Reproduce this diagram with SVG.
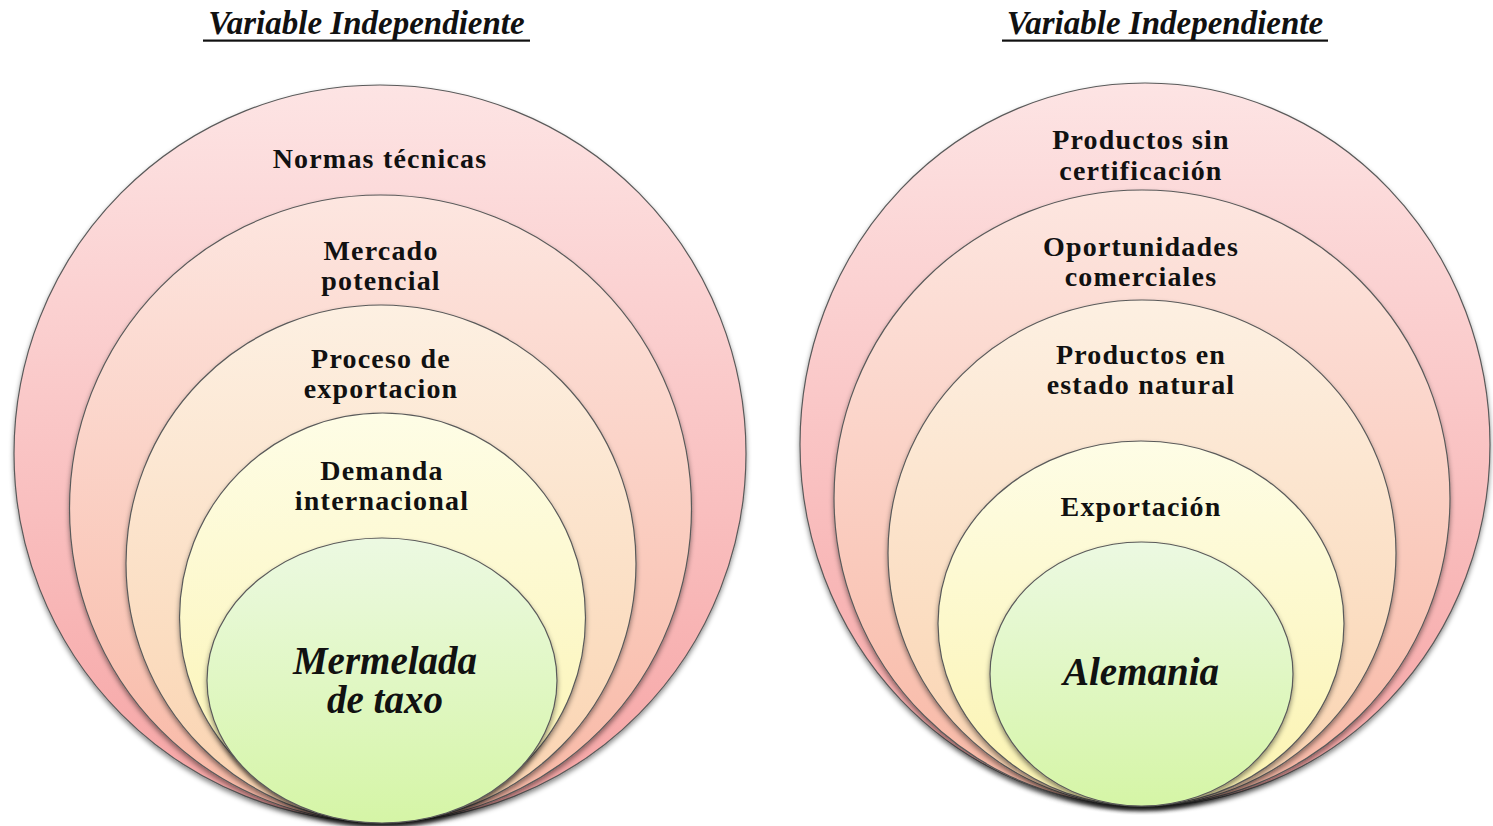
<svg xmlns="http://www.w3.org/2000/svg" width="1493" height="826" viewBox="0 0 1493 826">
<style>
.ring{stroke:#5a5a5a;stroke-width:1.2;filter:url(#sh)}
.lbl{font-family:"Liberation Serif","Times New Roman",serif;font-weight:bold;font-size:28px;letter-spacing:1.2px;fill:#111;text-anchor:middle}
.core{font-family:"Liberation Serif","Times New Roman",serif;font-weight:bold;font-style:italic;font-size:39px;fill:#111;text-anchor:middle}
.title{font-family:"Liberation Serif","Times New Roman",serif;font-weight:bold;font-style:italic;font-size:33px;fill:#111;text-anchor:middle}
</style>
<defs>
<filter id="sh" x="-10%" y="-10%" width="120%" height="125%">
<feDropShadow dx="0" dy="3" stdDeviation="2.5" flood-color="#000" flood-opacity="0.45"/>
</filter>
<linearGradient id="g1" x1="0" y1="0" x2="0" y2="1"><stop offset="0" stop-color="#fde4e4"/><stop offset="1" stop-color="#f6a3a3"/></linearGradient>
<linearGradient id="g2" x1="0" y1="0" x2="0" y2="1"><stop offset="0" stop-color="#fde6e0"/><stop offset="1" stop-color="#f8b7a4"/></linearGradient>
<linearGradient id="g3" x1="0" y1="0" x2="0" y2="1"><stop offset="0" stop-color="#fdf0e2"/><stop offset="1" stop-color="#fad2ae"/></linearGradient>
<linearGradient id="g4" x1="0" y1="0" x2="0" y2="1"><stop offset="0" stop-color="#fefde6"/><stop offset="1" stop-color="#fbf3b0"/></linearGradient>
<linearGradient id="g5" x1="0" y1="0" x2="0" y2="1"><stop offset="0" stop-color="#ecf9e2"/><stop offset="1" stop-color="#d5f5a6"/></linearGradient>
</defs>
<rect width="1493" height="826" fill="#fff"/>

<g id="title-left">
<text class="title" x="366.5" y="34">Variable Independiente</text>
<rect x="203" y="39.5" width="327" height="2.2" fill="#111"/>
</g>
<g id="title-right">
<text class="title" x="1165" y="34">Variable Independiente</text>
<rect x="1002" y="39.5" width="326" height="2.2" fill="#111"/>
</g>

<g id="left-normas">
<ellipse class="ring" cx="380" cy="453.5" rx="366" ry="368.5" fill="url(#g1)"/>
<text class="lbl" x="380" y="168">Normas técnicas</text>
</g>
<g id="left-mercado">
<ellipse class="ring" cx="380.5" cy="508.5" rx="311" ry="313.5" fill="url(#g2)"/>
<text class="lbl" x="381" y="260">Mercado</text>
<text class="lbl" x="381" y="290">potencial</text>
</g>
<g id="left-proceso">
<ellipse class="ring" cx="381" cy="563.5" rx="255" ry="258.5" fill="url(#g3)"/>
<text class="lbl" x="381" y="368">Proceso de</text>
<text class="lbl" x="381" y="398">exportacion</text>
</g>
<g id="left-demanda">
<ellipse class="ring" cx="382.5" cy="617.5" rx="203" ry="204.5" fill="url(#g4)"/>
<text class="lbl" x="382" y="480">Demanda</text>
<text class="lbl" x="382" y="510">internacional</text>
</g>
<g id="left-mermelada">
<ellipse class="ring" cx="382" cy="680.5" rx="175" ry="142.5" fill="url(#g5)"/>
<text class="core" x="385" y="674">Mermelada</text>
<text class="core" x="385" y="713">de taxo</text>
</g>

<g id="right-productos-sin">
<ellipse class="ring" cx="1145" cy="444.5" rx="345" ry="361.5" fill="url(#g1)"/>
<text class="lbl" x="1141" y="149">Productos sin</text>
<text class="lbl" x="1141" y="180">certificación</text>
</g>
<g id="right-oportunidades">
<ellipse class="ring" cx="1142" cy="498" rx="308" ry="308" fill="url(#g2)"/>
<text class="lbl" x="1141" y="256">Oportunidades</text>
<text class="lbl" x="1141" y="286">comerciales</text>
</g>
<g id="right-productos-en">
<ellipse class="ring" cx="1142" cy="553" rx="254" ry="253" fill="url(#g3)"/>
<text class="lbl" x="1141" y="364">Productos en</text>
<text class="lbl" x="1141" y="394">estado natural</text>
</g>
<g id="right-exportacion">
<ellipse class="ring" cx="1141" cy="623.5" rx="203" ry="182.5" fill="url(#g4)"/>
<text class="lbl" x="1141" y="516">Exportación</text>
</g>
<g id="right-alemania">
<ellipse class="ring" cx="1141.5" cy="674" rx="151.5" ry="132" fill="url(#g5)"/>
<text class="core" x="1141" y="685">Alemania</text>
</g>

<g id="connectors"></g>
</svg>
